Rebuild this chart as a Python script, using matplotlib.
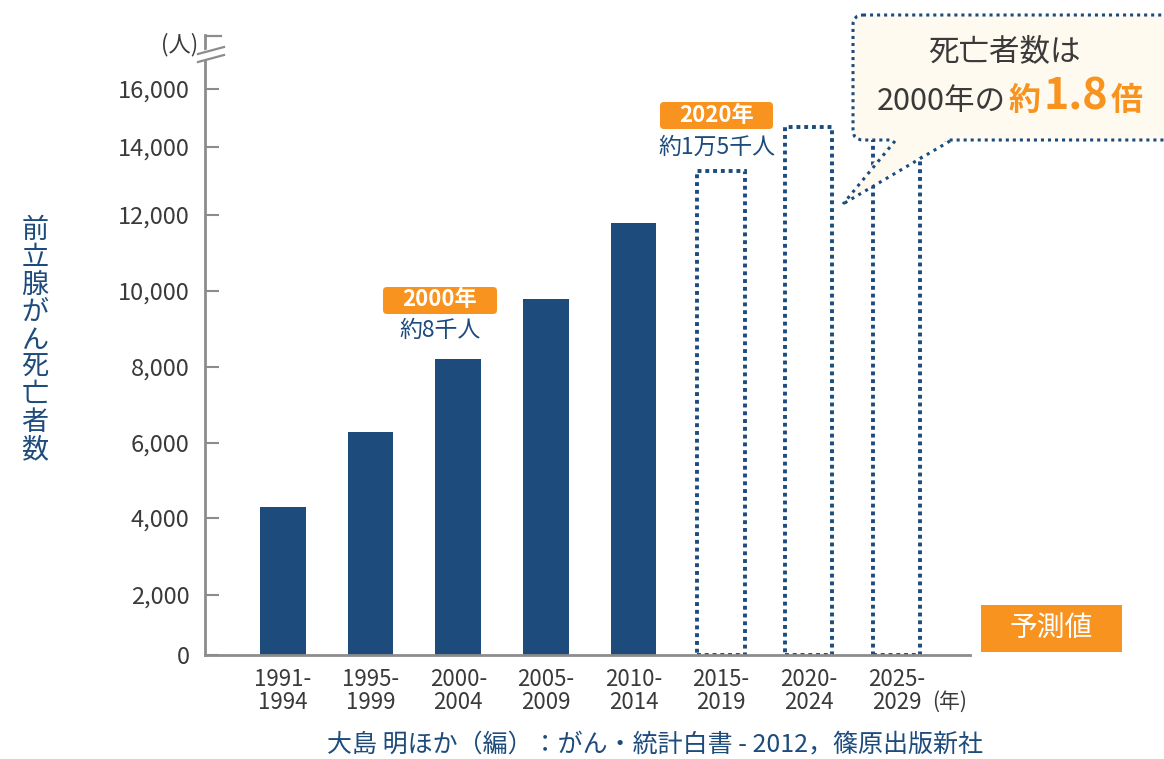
import numpy as np
import matplotlib
matplotlib.use("Agg")
import matplotlib.pyplot as plt
from matplotlib.patches import FancyBboxPatch, Polygon, Rectangle
from matplotlib.offsetbox import TextArea, HPacker, AnnotationBbox

plt.rcParams['font.family'] = ['Noto Sans CJK JP', 'DejaVu Sans']

# data
periods = ['1991-\n1994', '1995-\n1999', '2000-\n2004', '2005-\n2009', '2010-\n2014',
           '2015-\n2019', '2020-\n2024', '2025-\n2029']
deaths_actual = [4300, 6300, 8200, 9800, 11800]
deaths_forecast = [13300, 14700, 16400]
yticks = [0, 2000, 4000, 6000, 8000, 10000, 12000, 14000, 16000]

# the original axis is not evenly spaced; heights (px) of each tick above 0
tick_height_px = [0, 60, 137, 212, 288, 364, 440, 508, 566]

navy = '#1c4b7c'
orange = '#f7931e'
cream = '#fffaf0'
grey = '#8c8c8c'
txt = '#3a3a3a'

W, H = 1164, 759
fig = plt.figure(figsize=(W / 100, H / 100), dpi=100)
ax = fig.add_axes([205 / W, (H - 655) / H, 765 / W, (655 - 35) / H])

sv = yticks + [18000]
sh = tick_height_px + [620]
fwd = lambda v: np.interp(v, sv, sh)
inv = lambda p: np.interp(p, sh, sv)
ax.set_yscale('function', functions=(fwd, inv))
ax.set_ylim(0, 18000)

x_act = np.arange(len(deaths_actual))
x_fc = np.arange(len(deaths_actual), len(periods))
ax.bar(x_act, deaths_actual, width=0.52, color=navy, zorder=2)
ax.bar(x_fc, deaths_forecast, width=0.54, fill=False, edgecolor=navy,
       linestyle=(0, (1, 1.0)), linewidth=2.8, zorder=2)

ax.set_xlim(-0.89, 7.84)
ax.set_xticks(np.arange(len(periods)))
ax.set_xticklabels(periods, fontsize=16, color=txt, linespacing=1.05)
ax.tick_params(axis='x', length=0, pad=9)
ax.set_yticks(yticks)
ax.set_yticklabels([f'{v:,}' for v in yticks], fontsize=17, color=txt)
ax.tick_params(axis='y', direction='in', length=10, width=1.5, color=grey, pad=11)
for s in ['top', 'right']:
    ax.spines[s].set_visible(False)
for s in ['left', 'bottom']:
    ax.spines[s].set_color(grey)
    ax.spines[s].set_linewidth(2)
ax.patch.set_alpha(0)

# overlay in pixel units for notes and boxes
ov = fig.add_axes([0, 0, 1, 1])
ov.set_xlim(0, W)
ov.set_ylim(H, 0)
ov.axis('off')

# axis break mark
ov.add_patch(Polygon([(198, 52), (224, 45), (224, 55), (198, 62)], closed=True,
                     facecolor='white', edgecolor='none', zorder=3))
ov.plot([198, 224], [54, 47], color=grey, lw=1.6, zorder=4)
ov.plot([198, 224], [62, 55], color=grey, lw=1.6, zorder=4)
ov.plot([206, 221], [36, 36], color=grey, lw=1.6, zorder=4)
ov.text(180, 45, '(人)', fontsize=16, color=txt, ha='center', va='center')

# y label, stacked
ov.text(35, 340, '\n'.join('前立腺がん死亡者数'), fontsize=19.5, color=navy,
        ha='center', va='center', linespacing=1.02)

# value notes
ov.add_patch(FancyBboxPatch((383, 287), 114, 27, boxstyle='round,pad=0,rounding_size=4',
                            facecolor=orange, edgecolor='none'))
ov.text(440, 300, '2000年', fontsize=16, color='white', fontweight='bold',
        ha='center', va='center')
ov.text(440, 330, '約8千人', fontsize=16.5, color=navy, ha='center', va='center')

ov.add_patch(FancyBboxPatch((660, 102), 113, 27, boxstyle='round,pad=0,rounding_size=4',
                            facecolor=orange, edgecolor='none'))
ov.text(717, 115, '2020年', fontsize=16, color='white', fontweight='bold',
        ha='center', va='center')
ov.text(717, 147, '約1万5千人', fontsize=16.5, color=navy, ha='center', va='center')

ov.add_patch(Rectangle((981, 605), 141, 47, facecolor=orange, edgecolor='none'))
ov.text(1051, 628, '予測値', fontsize=20, color='white', ha='center', va='center')

# callout
ov.add_patch(FancyBboxPatch((853, 15), 330, 125, boxstyle='round,pad=0,rounding_size=10',
                            facecolor=cream, edgecolor=navy, linestyle=(0, (1, 1.3)),
                            linewidth=2.2, zorder=5))
ov.add_patch(Polygon([(893, 137), (952, 137), (843, 204)], closed=True,
                     facecolor=cream, edgecolor='none', zorder=6))
ov.plot([895, 843], [141, 204], color=navy, lw=2.2, linestyle=(0, (1, 1.6)), zorder=7)
ov.plot([950, 843], [141, 204], color=navy, lw=2.2, linestyle=(0, (1, 1.6)), zorder=7)
ov.text(1004, 52, '死亡者数は', fontsize=22, color=txt, ha='center', va='center', zorder=8)
parts = [TextArea('2000年の', textprops=dict(fontsize=22, color=txt)),
         TextArea('約', textprops=dict(fontsize=23, color=orange, fontweight='bold')),
         TextArea('1.8', textprops=dict(fontsize=31, color=orange, fontweight='bold')),
         TextArea('倍', textprops=dict(fontsize=23, color=orange, fontweight='bold'))]
row = HPacker(children=parts, align='baseline', pad=0, sep=2)
ab = AnnotationBbox(row, (1010, 97), xycoords='data', frameon=False, zorder=8)
ov.add_artist(ab)

ov.text(932, 702, '(年)', fontsize=15, color=txt, ha='left', va='center')
ov.text(655, 745, '大島 明ほか（編）：がん・統計白書 - 2012，篠原出版新社',
        fontsize=18, color=navy, ha='center', va='center')

fig.savefig('out.png', dpi=100)
